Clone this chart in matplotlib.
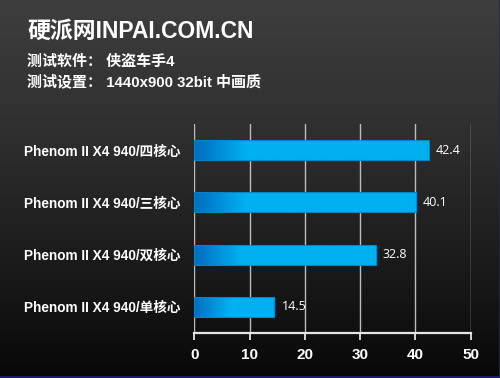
import numpy as np
import matplotlib
matplotlib.use("Agg")
import matplotlib.pyplot as plt
from matplotlib.colors import LinearSegmentedColormap
from matplotlib.lines import Line2D

plt.rcParams['font.family'] = ['Liberation Sans', 'Noto Sans CJK SC', 'DejaVu Sans']

title = "硬派网INPAI.COM.CN"
subtitle1 = "测试软件： 侠盗车手4"
subtitle2 = "测试设置： 1440x900 32bit 中画质"
categories = ["Phenom II X4 940/四核心", "Phenom II X4 940/三核心",
              "Phenom II X4 940/双核心", "Phenom II X4 940/单核心"]
values = [42.4, 40.1, 32.8, 14.5]
xticks = [0, 10, 20, 30, 40, 50]

W, H = 500, 378
fig = plt.figure(figsize=(W / 100, H / 100), dpi=100)

# background gradient
bg = fig.add_axes([0, 0, 1, 1], zorder=-10)
bgcmap = LinearSegmentedColormap.from_list(
    "bg", [(0, "#3e3e3e"), (0.33, "#303030"), (0.88, "#101010"), (1.0, "#070707")])
bg.imshow(np.linspace(0, 1, 256).reshape(-1, 1), aspect="auto", cmap=bgcmap,
          extent=[0, 1, 0, 1], origin="upper")
bg.set_xlim(0, 1); bg.set_ylim(0, 1)
bg.axis("off")
# navy border right and bottom
bg.add_line(Line2D([0.999, 0.999], [0, 1], color="#20207a", lw=1.2))
bg.add_line(Line2D([0, 1], [0.0015, 0.0015], color="#20207a", lw=1.2))

# plot area in pixels
x0, x1 = 194.3, 470.7
y0, y1 = 124, 333
ax = fig.add_axes([x0 / W, 1 - y1 / H, (x1 - x0) / W, (y1 - y0) / H])
ax.patch.set_alpha(0)
ax.set_xlim(0, 50)
n = len(categories)
ax.set_ylim(n - 0.5, -0.5)

for s in ["top", "right", "left"]:
    ax.spines[s].set_visible(False)
ax.spines["bottom"].set_color("#e6e6e6")
ax.spines["bottom"].set_linewidth(1.6)

ax.set_xticks(xticks)
ax.set_xticklabels([str(t) for t in xticks], color="white", fontsize=11, fontweight="bold")
ax.tick_params(axis="x", colors="#e6e6e6", length=5, width=1.3, pad=6, labelcolor="white")
ax.set_yticks(range(n))
ax.set_yticklabels(categories, color="white", fontsize=9.8, fontweight="bold")
ax.tick_params(axis="y", length=0, pad=10)
ax.grid(axis="x", color="#bdbdbd", lw=1.0)
ax.set_axisbelow(True)

barcmap = LinearSegmentedColormap.from_list("bar", ["#006cc0", "#00b0f0"])
h = 0.38
for i, v in enumerate(values):
    gw = 4.7 + 0.111 * v
    frac = min(gw / v, 1.0)
    xs = np.linspace(0, 1, 300)
    grad = np.clip(xs / frac, 0, 1).reshape(1, -1)
    ax.imshow(grad, cmap=barcmap, aspect="auto",
              extent=[0, v, i + h / 2, i - h / 2], zorder=3, interpolation="bilinear")
    ax.add_patch(plt.Rectangle((0, i - h / 2), v, h, fill=False,
                               edgecolor="#0a84c8", lw=0.8, zorder=4))
    ax.text(v + 1.3, i, f"{v}", color="white", fontsize=9, va="center", ha="left",
            fontfamily=["Open Sans", "DejaVu Sans"], zorder=5)
ax.set_xlim(0, 50)
ax.set_ylim(n - 0.5, -0.5)

fig.text(27 / W, 1 - 31 / H, title, color="white", fontsize=16.5, fontweight="bold",
         va="center", ha="left")
fig.text(27 / W, 1 - 62 / H, subtitle1, color="white", fontsize=10.8, fontweight="bold",
         va="center", ha="left")
fig.text(27 / W, 1 - 82 / H, subtitle2, color="white", fontsize=10.8, fontweight="bold",
         va="center", ha="left")

fig.savefig("out.png", dpi=100)
